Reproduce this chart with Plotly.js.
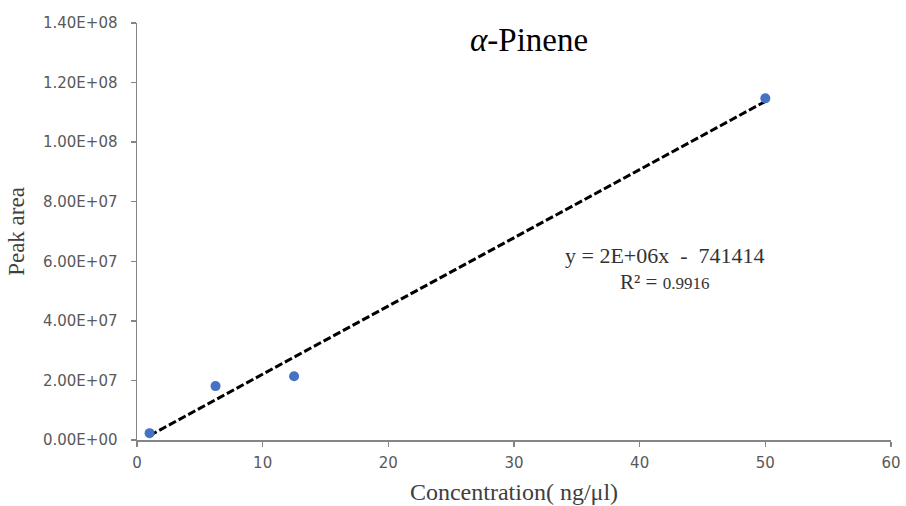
<!DOCTYPE html>
<html>
<head>
<meta charset="utf-8">
<script src="https://cdn.plot.ly/plotly-3.0.1.min.js"></script>
<style>
html,body{margin:0;padding:0;background:#fff;}
#chart{width:906px;height:506px;}
</style>
</head>
<body>
<div id="chart"></div>
<script>
// Data
const concentration = [1, 6.25, 12.5, 50];
const peakArea = [2.3e6, 1.81e7, 2.14e7, 1.147e8];

const yTickVals = [0, 2e7, 4e7, 6e7, 8e7, 1e8, 1.2e8, 1.4e8];
const yTickText = ["0.00E+00","2.00E+07","4.00E+07","6.00E+07","8.00E+07","1.00E+08","1.20E+08","1.40E+08"];
const xTickVals = [0, 10, 20, 30, 40, 50, 60];

const titleText = "<i>α</i>-Pinene";
const equationText = "y = 2E+06x  -  741414";
const r2Text = "R² = <span style='font-size:17px'>0.9916</span>";

// linear least-squares trendline from the data
const n = concentration.length;
const mx = concentration.reduce((a,b)=>a+b,0)/n;
const my = peakArea.reduce((a,b)=>a+b,0)/n;
let sxy = 0, sxx = 0;
for (let i=0;i<n;i++){ sxy += (concentration[i]-mx)*(peakArea[i]-my); sxx += (concentration[i]-mx)**2; }
const slope = sxy/sxx, intercept = my - slope*mx;
const xMin = Math.min(...concentration), xMax = Math.max(...concentration);
const trendX = [xMin, xMax];
const trendY = trendX.map(x => slope*x + intercept);

const serif = "'Times New Roman', 'Liberation Serif', Tinos, serif";
const sans = "'DejaVu Sans', Verdana, sans-serif";
const axisColor = "#858585";

const traces = [
  {x: trendX, y: trendY, mode: 'lines', line: {color: '#000', width: 3, dash: '8px,3px'}, hoverinfo: 'skip', showlegend: false},
  {x: concentration, y: peakArea, mode: 'markers', marker: {color: '#4472C4', size: 10}, showlegend: false}
];

const layout = {
  width: 906, height: 506,
  margin: {l: 137, r: 15, t: 23, b: 66},
  paper_bgcolor: '#fff', plot_bgcolor: '#fff',
  showlegend: false,
  xaxis: {
    range: [0, 60], tickvals: xTickVals, ticktext: xTickVals.map(String),
    showgrid: false, zeroline: false, showline: true, linecolor: axisColor, linewidth: 1.5,
    ticks: 'outside', ticklen: 5, tickcolor: axisColor, tickwidth: 1.5,
    tickfont: {family: sans, size: 15, color: '#595959'},
    ticklabelstandoff: 3,
    title: {text: "Concentration( ng/μl)", font: {family: serif, size: 24, color: '#404040'}, standoff: 12}
  },
  yaxis: {
    range: [0, 1.4e8], tickvals: yTickVals, ticktext: yTickText,
    showgrid: false, zeroline: false, showline: true, linecolor: axisColor, linewidth: 1.5,
    ticks: 'outside', ticklen: 5, tickcolor: axisColor, tickwidth: 1.5,
    tickfont: {family: sans, size: 15, color: '#595959'},
    ticklabelstandoff: 10,
    title: {text: "Peak area", font: {family: serif, size: 23, color: '#404040'}, standoff: 12}
  },
  annotations: [
    {x: 0.52, y: 0.96, xref: 'paper', yref: 'paper', text: titleText, showarrow: false,
     font: {family: serif, size: 33, color: '#000'}, xanchor: 'center', yanchor: 'middle'},
    {x: 42, y: 6.2e7, xref: 'x', yref: 'y', text: equationText, showarrow: false,
     font: {family: serif, size: 22, color: '#333'}, xanchor: 'center', yanchor: 'middle'},
    {x: 42, y: 5.29e7, xref: 'x', yref: 'y', text: r2Text, showarrow: false,
     font: {family: serif, size: 21, color: '#333'}, xanchor: 'center', yanchor: 'middle'}
  ]
};
// title position: convert 40px from top into paper coordinates
const plotH = 506 - 23 - 66;
layout.annotations[0].y = 1 - (40 - 23) / plotH;

Plotly.newPlot('chart', traces, layout, {displayModeBar: false, staticPlot: true});
</script>
</body>
</html>
